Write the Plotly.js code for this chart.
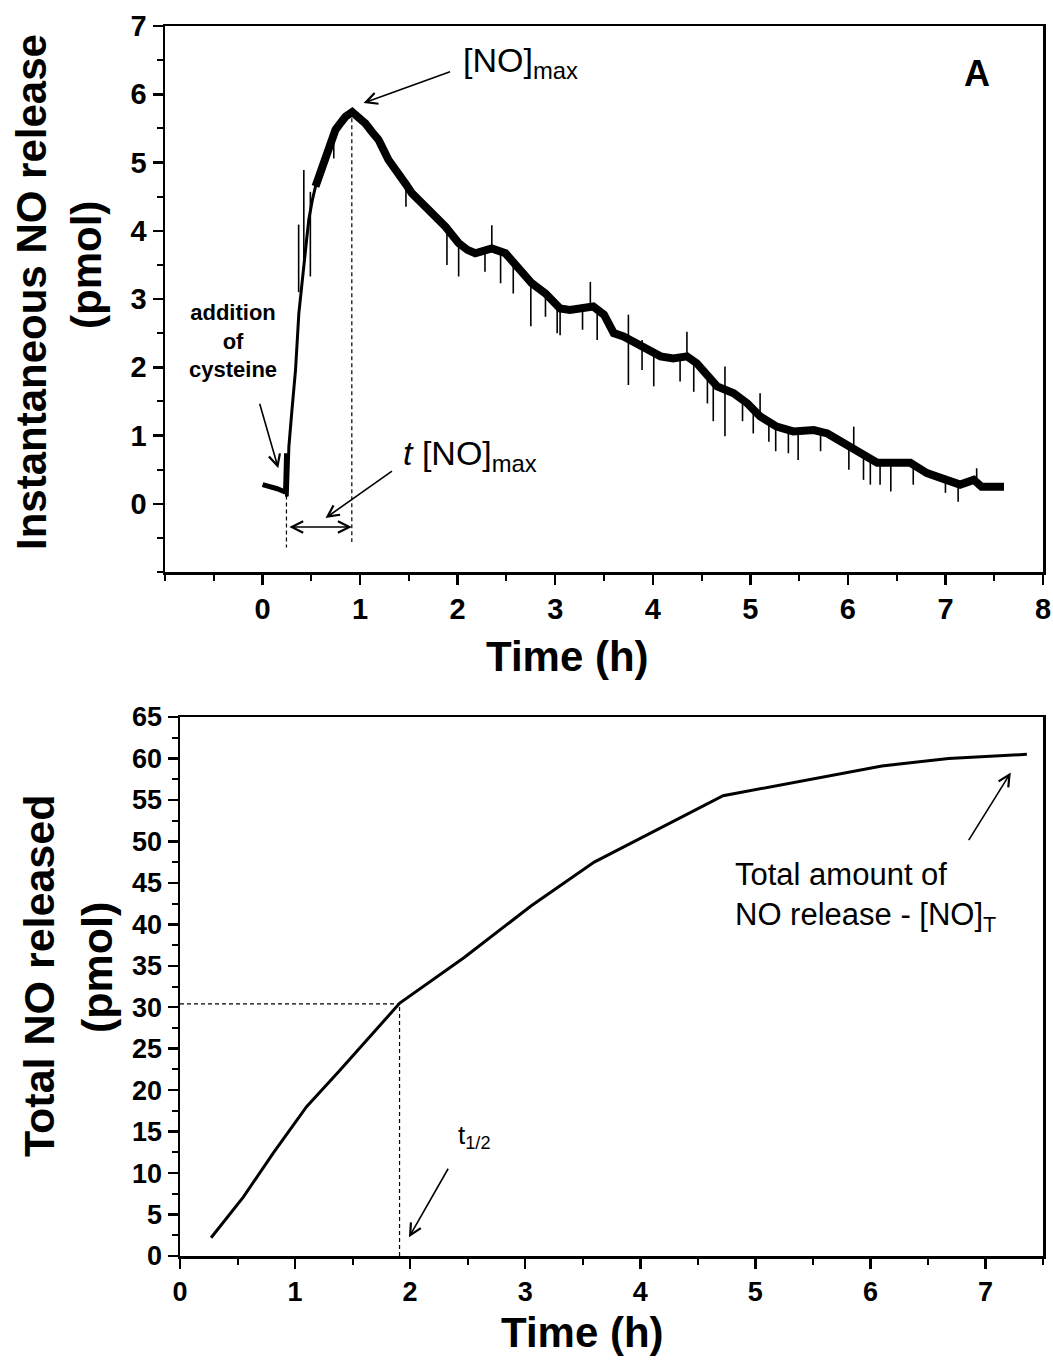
<!DOCTYPE html>
<html><head><meta charset="utf-8">
<script src="https://cdn.plot.ly/plotly-3.0.1.min.js"></script>
<style>html,body{margin:0;padding:0;background:#fff}</style>
</head><body><div id="chart" style="width:1053px;height:1361px"></div>
<script>
// ---------- Panel A: instantaneous NO release (pmol) vs time (h) ----------
// baseline before cysteine addition
const baseT = [0.0, 0.05, 0.10, 0.15, 0.20, 0.215];
const baseY = [0.28, 0.26, 0.25, 0.22, 0.19, 0.18];
// rise after cysteine addition (thin trace)
const riseT = [0.215, 0.225, 0.236, 0.245, 0.253, 0.27, 0.30, 0.338, 0.372, 0.40, 0.423, 0.45, 0.474, 0.51, 0.543, 0.57];
const riseY = [0.18, 0.15, 0.74, 0.12, 0.11, 0.84, 1.35, 1.96, 2.79, 3.20, 3.47, 3.85, 4.16, 4.45, 4.65, 4.78];
// noisy band after the rise (thick trace)
const decayT = [0.543, 0.60, 0.645, 0.70, 0.748, 0.80, 0.85, 0.919, 0.97, 1.055, 1.12, 1.19, 1.29, 1.40, 1.47, 1.53, 1.62, 1.70, 1.80, 1.875, 2.01, 2.10, 2.18, 2.27, 2.35, 2.49, 2.63, 2.76, 2.90, 3.05, 3.15, 3.26, 3.39, 3.50, 3.60, 3.70, 3.84, 3.98, 4.08, 4.21, 4.35, 4.45, 4.56, 4.66, 4.83, 4.97, 5.10, 5.27, 5.44, 5.55, 5.65, 5.79, 5.96, 6.13, 6.30, 6.47, 6.64, 6.81, 6.98, 7.15, 7.29, 7.37, 7.60];
const decayY = [4.65, 4.90, 5.09, 5.30, 5.48, 5.58, 5.67, 5.74, 5.68, 5.57, 5.45, 5.33, 5.04, 4.79, 4.68, 4.55, 4.42, 4.30, 4.16, 4.06, 3.82, 3.72, 3.67, 3.70, 3.74, 3.67, 3.43, 3.23, 3.08, 2.86, 2.84, 2.87, 2.89, 2.77, 2.50, 2.45, 2.35, 2.25, 2.16, 2.13, 2.16, 2.06, 1.86, 1.72, 1.62, 1.47, 1.28, 1.13, 1.06, 1.07, 1.08, 1.03, 0.89, 0.74, 0.60, 0.60, 0.60, 0.45, 0.35, 0.28, 0.35, 0.25, 0.25];
// noise spikes: time, low end, high end
const spikeT  = [0.37, 0.423, 0.49, 0.73, 1.47, 1.89, 2.01, 2.28, 2.35, 2.44, 2.57, 2.75, 2.90, 3.02, 3.05, 3.28, 3.36, 3.43, 3.75, 3.89, 4.01, 4.28, 4.35, 4.42, 4.56, 4.62, 4.74, 4.92, 5.03, 5.10, 5.19, 5.26, 5.39, 5.49, 5.72, 6.01, 6.06, 6.16, 6.23, 6.33, 6.44, 6.67, 7.00, 7.13, 7.32];
const spikeLo = [3.10, 3.50, 3.33, 5.06, 4.35, 3.50, 3.33, 3.40, 3.74, 3.23, 3.08, 2.60, 2.74, 2.50, 2.47, 2.55, 2.88, 2.40, 1.74, 1.96, 1.72, 1.79, 2.15, 1.64, 1.47, 1.21, 0.99, 1.21, 1.03, 1.28, 0.91, 0.77, 0.74, 0.64, 0.77, 0.50, 0.80, 0.35, 0.28, 0.28, 0.18, 0.28, 0.16, 0.03, 0.30];
const spikeHi = [4.09, 4.89, 4.57, 5.40, 4.70, 4.00, 3.85, 3.72, 4.08, 3.70, 3.50, 3.25, 3.10, 2.90, 2.90, 2.88, 3.25, 2.88, 2.77, 2.40, 2.25, 2.15, 2.52, 2.10, 1.90, 1.80, 2.01, 1.55, 1.45, 1.62, 1.25, 1.13, 1.06, 1.06, 1.08, 0.85, 1.13, 0.70, 0.70, 0.62, 0.60, 0.62, 0.38, 0.30, 0.52];
const tAdd = 0.245;      // addition of cysteine
const tMax = 0.915;      // time of [NO]max
const peakY = 5.80;

// ---------- Panel B: total NO released (pmol) vs time (h) ----------
const totT = [0.27, 0.55, 0.81, 1.10, 1.39, 1.91, 2.47, 3.05, 3.60, 4.72, 6.10, 6.68, 7.36];
const totY = [2.2, 7.1, 12.4, 18.0, 22.4, 30.5, 36.0, 42.2, 47.5, 55.5, 59.1, 60.0, 60.5];
const tHalf = 1.908;
const halfY = 30.4;

const W = 1053, H = 1361;
const px = x => x / W, py = y => 1 - y / H;
const FONT = 'Liberation Sans, Arial, Helvetica, sans-serif';

// spike segments
const spX = [], spY = [];
spikeT.forEach((t, i) => { spX.push(t, t, null); spY.push(spikeLo[i], spikeHi[i], null); });

const traces = [
  {x: baseT, y: baseY, xaxis: 'x', yaxis: 'y', mode: 'lines', line: {color: '#000', width: 5}, hoverinfo: 'skip'},
  {x: riseT, y: riseY, xaxis: 'x', yaxis: 'y', mode: 'lines', line: {color: '#000', width: 3}, hoverinfo: 'skip'},
  {x: decayT, y: decayY, xaxis: 'x', yaxis: 'y', mode: 'lines', line: {color: '#000', width: 8}, hoverinfo: 'skip'},
  {x: spX, y: spY, xaxis: 'x', yaxis: 'y', mode: 'lines', line: {color: '#000', width: 1.6}, connectgaps: false, hoverinfo: 'skip'},
  {x: totT, y: totY, xaxis: 'x2', yaxis: 'y2', mode: 'lines', line: {color: '#000', width: 3}, hoverinfo: 'skip'}
];

function axis(extra, fs) {
  return Object.assign({
    showgrid: false, zeroline: false, showline: true, linecolor: '#000', linewidth: 2.5,
    mirror: true, ticks: 'outside', ticklen: 10, tickwidth: 2.5, tickcolor: '#000',
    tickfont: {family: FONT, size: fs, color: '#000', weight: 'bold'},
    fixedrange: true
  }, extra);
}
const minor = (t0, d) => ({tickmode: 'linear', tick0: t0, dtick: d, ticks: 'outside', ticklen: 6, tickwidth: 2, tickcolor: '#000', showgrid: false});

const layout = {
  width: W, height: H, margin: {l: 0, r: 0, t: 0, b: 0},
  paper_bgcolor: '#fff', plot_bgcolor: '#fff', showlegend: false,
  xaxis: axis({domain: [px(165), px(1043)], range: [-1, 8], anchor: 'y', tickmode: 'array', tickvals: [0,1,2,3,4,5,6,7,8], minor: minor(-1, 0.5)}, 29),
  yaxis: axis({domain: [py(572), py(26)], range: [-1, 7], anchor: 'x', tickmode: 'array', tickvals: [0,1,2,3,4,5,6,7], minor: minor(-1, 0.5)}, 29),
  xaxis2: axis({domain: [px(180), px(1043)], range: [0, 7.5], anchor: 'y2', tickmode: 'linear', tick0: 0, dtick: 1, minor: minor(0, 0.5)}, 27),
  yaxis2: axis({domain: [py(1256), py(717)], range: [0, 65], anchor: 'x2', tickmode: 'linear', tick0: 0, dtick: 5, minor: minor(0, 2.5)}, 27),
  shapes: [
    {type: 'line', xref: 'x', yref: 'y', x0: tAdd, x1: tAdd, y0: 0.12, y1: -0.64, line: {color: '#000', width: 1.2, dash: '4px,3px'}},
    {type: 'line', xref: 'x', yref: 'y', x0: tMax, x1: tMax, y0: peakY - 0.15, y1: -0.56, line: {color: '#000', width: 1.2, dash: '4px,3px'}},
    {type: 'line', xref: 'x2', yref: 'y2', x0: 0, x1: tHalf, y0: halfY, y1: halfY, line: {color: '#000', width: 1.2, dash: '4px,3px'}},
    {type: 'line', xref: 'x2', yref: 'y2', x0: tHalf, x1: tHalf, y0: 0, y1: halfY, line: {color: '#000', width: 1.2, dash: '4px,3px'}}
  ],
  annotations: []
};

const A = layout.annotations;
function txt(x, y, text, size, opts) {
  A.push(Object.assign({xref: 'paper', yref: 'paper', x: px(x), y: py(y), text: text, showarrow: false,
    font: {family: FONT, size: size, color: '#000'}, xanchor: 'center', yanchor: 'middle'}, opts || {}));
}
function arrow(xr, yr, x, y, ax, ay, opts) {
  A.push(Object.assign({xref: xr, yref: yr, x: x, y: y, ax: ax, ay: ay, text: '', showarrow: true,
    arrowhead: 5, arrowsize: 1.4, arrowwidth: 1.6, arrowcolor: '#000', standoff: 0}, opts || {}));
}
const bold = (s) => ({family: FONT, size: s, color: '#000', weight: 'bold'});

// axis titles
txt(31, 292, 'Instantaneous NO release', 42, {textangle: -90, font: bold(42)});
txt(86, 265, '(pmol)', 42, {textangle: -90, font: bold(42)});
txt(567, 656, 'Time (h)', 42, {font: bold(42)});
txt(39, 976, 'Total NO released', 43, {textangle: -90, font: bold(43)});
txt(97, 968, '(pmol)', 43, {textangle: -90, font: bold(43)});
txt(582, 1332, 'Time (h)', 42, {font: bold(42)});

// panel A labels
txt(977, 74, 'A', 36, {font: bold(36)});
txt(461, 62, '[NO]<sub>max</sub>', 34, {xanchor: 'left'});
txt(233, 341, 'addition<br>of<br>cysteine', 22, {font: bold(22)});
txt(401, 455, '<i>t</i> [NO]<sub>max</sub>', 34, {xanchor: 'left'});
arrow('x', 'y', 1.035, 5.87, 88, -32);
arrow('x', 'y', 0.161, 0.52, -19, -66);
arrow('x', 'y', 0.645, -0.21, 68, -48);
arrow('x', 'y', tMax, -0.34, -64, 0, {arrowside: 'end+start'});

// panel B labels
txt(456, 1136, 't<sub>1/2</sub>', 26, {xanchor: 'left'});
txt(733, 897, 'Total amount of<br>NO release - [NO]<sub>T</sub>', 31, {xanchor: 'left', align: 'left'});
arrow('x2', 'y2', 1.99, 2.26, 40, -70);
arrow('x2', 'y2', 7.22, 58.3, -43, 69);

Plotly.newPlot('chart', traces, layout, {staticPlot: true, displayModeBar: false});
</script></body></html>
